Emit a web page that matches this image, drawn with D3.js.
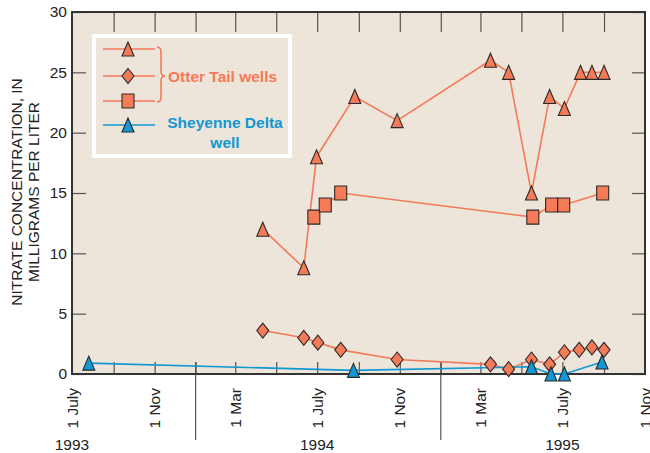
<!DOCTYPE html>
<html>

<head>
    <title>Nitrate concentration</title>
    <script src="https://d3js.org/d3.v7.min.js"></script>
    <style>
        body { margin: 0; background: #fff; }
        text { font-family: "Liberation Sans", Arial, sans-serif; fill: #222; }
        .axis path { display: none; }
        .axis line { stroke: #555; stroke-width: 1.2px; }
    </style>
</head>

<body>
    <div id="chart"></div>
    <script>
        // Otter Tail well 1 (triangles)
        const triDates = ["1994-04-11", "1994-06-11", "1994-06-30", "1994-08-26", "1994-10-28", "1995-03-16", "1995-04-12", "1995-05-16", "1995-06-12", "1995-07-04", "1995-07-28", "1995-08-14", "1995-09-01"];
        const triValues = [12, 8.8, 18, 23, 21, 26, 25, 15, 23, 22, 25, 25, 25];
        // Otter Tail well 2 (diamonds)
        const diaDates = ["1994-04-11", "1994-06-11", "1994-07-02", "1994-08-05", "1994-10-28", "1995-03-16", "1995-04-12", "1995-05-16", "1995-06-12", "1995-07-04", "1995-07-26", "1995-08-14", "1995-09-01"];
        const diaValues = [3.6, 3.0, 2.6, 2.0, 1.2, 0.8, 0.4, 1.2, 0.8, 1.8, 2.0, 2.2, 2.0];
        // Otter Tail well 3 (squares)
        const sqDates = ["1994-06-26", "1994-07-13", "1994-08-05", "1995-05-18", "1995-06-15", "1995-07-03", "1995-08-30"];
        const sqValues = [13, 14, 15, 13, 14, 14, 15];
        // Sheyenne Delta well
        const shDates = ["1993-07-26", "1994-08-24", "1995-05-16", "1995-06-14", "1995-07-04", "1995-08-29"];
        const shValues = [0.9, 0.3, 0.6, 0, 0, 1.0];

        const yTicks = [0, 5, 10, 15, 20, 25, 30];
        const xLabelDates = ["1993-07-01", "1993-11-01", "1994-03-01", "1994-07-01", "1994-11-01", "1995-03-01", "1995-07-01", "1995-11-01"];
        const xLabels = ["1 July", "1 Nov", "1 Mar", "1 July", "1 Nov", "1 Mar", "1 July", "1 Nov"];
        const yearDates = ["1993-07-01", "1994-07-01", "1995-07-01"];
        const yearLabels = ["1993", "1994", "1995"];
        const yearBreaks = ["1994-01-01", "1995-01-01"];

        const orange = "#f47a58";
        const orangeLine = "#f4795a";
        const blue = "#1197d3";
        const beige = "#ede5d9";

        const parse = d3.utcParse("%Y-%m-%d");
        const zip = (ds, vs) => ds.map((d, i) => ({ date: parse(d), value: vs[i] }));
        const tri = zip(triDates, triValues);
        const dia = zip(diaDates, diaValues);
        const sq = zip(sqDates, sqValues);
        const sh = zip(shDates, shValues);

        const width = 650, height = 453;
        const mLeft = 72, mRight = 645, mTop = 12, mBottom = 374;

        const svg = d3.select("#chart")
            .append("svg")
            .attr("width", width)
            .attr("height", height);

        const x = d3.scaleUtc()
            .domain([parse("1993-07-01"), parse("1995-11-01")])
            .range([mLeft, mRight]);
        const y = d3.scaleLinear().domain([0, 30]).range([mBottom, mTop]);

        // plot background
        svg.append("rect")
            .attr("x", mLeft).attr("y", mTop)
            .attr("width", mRight - mLeft).attr("height", mBottom - mTop)
            .attr("fill", beige);

        const monthTicks = d3.utcMonth.every(2).range(parse("1993-09-01"), parse("1995-10-01"));

        // inward ticks
        svg.append("g").attr("class", "axis")
            .attr("transform", `translate(0,${mBottom})`)
            .call(d3.axisBottom(x).tickValues(monthTicks).tickSizeInner(-12).tickSizeOuter(0).tickFormat(""));
        svg.append("g").attr("class", "axis")
            .attr("transform", `translate(0,${mTop})`)
            .call(d3.axisTop(x).tickValues(monthTicks).tickSizeInner(-20).tickSizeOuter(0).tickFormat(""));
        svg.append("g").attr("class", "axis")
            .attr("transform", `translate(${mLeft},0)`)
            .call(d3.axisLeft(y).tickValues(yTicks).tickSizeInner(-14).tickSizeOuter(0).tickPadding(5))
            .selectAll("text")
            .style("font-size", "15.5px")
            .attr("fill", "#222");
        svg.append("g").attr("class", "axis")
            .attr("transform", `translate(${mRight},0)`)
            .call(d3.axisRight(y).tickValues(yTicks).tickSizeInner(-13).tickSizeOuter(0).tickFormat(""));

        // year separators
        svg.selectAll(".yearbreak")
            .data(yearBreaks)
            .join("line")
            .attr("x1", d => x(parse(d))).attr("x2", d => x(parse(d)))
            .attr("y1", mBottom - 12).attr("y2", 440)
            .attr("stroke", "#555").attr("stroke-width", 1.2);

        // frame
        svg.append("rect")
            .attr("x", mLeft).attr("y", mTop)
            .attr("width", mRight - mLeft).attr("height", mBottom - mTop)
            .attr("fill", "none")
            .attr("stroke", "#333")
            .attr("stroke-width", 2);

        // x labels (rotated); the last one runs off the right edge as in the original
        svg.selectAll(".xlab")
            .data(xLabelDates)
            .join("text")
            .attr("transform", d => `translate(${x(parse(d))},388) rotate(-90)`)
            .attr("text-anchor", "end")
            .attr("dy", "0.36em")
            .style("font-size", "15.5px")
            .text((d, i) => xLabels[i]);

        svg.selectAll(".yearlab")
            .data(yearDates)
            .join("text")
            .attr("x", d => x(parse(d)))
            .attr("y", 450)
            .attr("text-anchor", "middle")
            .style("font-size", "15.5px")
            .text((d, i) => yearLabels[i]);

        // y title
        const yt = svg.append("text")
            .attr("transform", "translate(0,192) rotate(-90)")
            .attr("text-anchor", "middle")
            .style("font-size", "15.5px");
        yt.append("tspan").attr("x", 0).attr("y", 22).text("NITRATE CONCENTRATION, IN");
        yt.append("tspan").attr("x", 0).attr("y", 39).text("MILLIGRAMS PER LITER");

        // markers
        const triPath = "M0,-7L6,7L-6,7Z";
        const diaPath = "M0,-7.5L6,0L0,7.5L-6,0Z";
        const sqPath = "M-6,-7H6V7H-6Z";

        const line = d3.line().x(d => x(d.date)).y(d => y(d.value));

        [[tri, orangeLine], [dia, orangeLine], [sq, orangeLine], [sh, blue]].forEach(([data, c]) => {
            svg.append("path")
                .datum(data)
                .attr("d", line)
                .attr("fill", "none")
                .attr("stroke", c)
                .attr("stroke-width", 1.6);
        });

        function marks(data, shape, fill) {
            svg.append("g")
                .selectAll("path")
                .data(data)
                .join("path")
                .attr("transform", d => `translate(${x(d.date)},${y(d.value)})`)
                .attr("d", shape)
                .attr("fill", fill)
                .attr("stroke", "#2a2a2a")
                .attr("stroke-width", 1.1);
        }
        marks(dia, diaPath, orange);
        marks(sq, sqPath, orange);
        marks(tri, triPath, orange);
        marks(sh, triPath, blue);

        // legend
        const lg = svg.append("g");
        lg.append("rect")
            .attr("x", 94).attr("y", 36)
            .attr("width", 196).attr("height", 120)
            .attr("fill", beige)
            .attr("stroke", "#fff")
            .attr("stroke-width", 4);
        const legendRows = [[49, triPath, orange, orangeLine], [76, diaPath, orange, orangeLine], [101, sqPath, orange, orangeLine], [125, triPath, blue, blue]];
        legendRows.forEach(([ly, shape, fill, c]) => {
            lg.append("line")
                .attr("x1", 103).attr("x2", 155)
                .attr("y1", ly).attr("y2", ly)
                .attr("stroke", c).attr("stroke-width", 1.6);
            lg.append("path")
                .attr("transform", `translate(128,${ly})`)
                .attr("d", shape)
                .attr("fill", fill)
                .attr("stroke", "#2a2a2a")
                .attr("stroke-width", 1.1);
        });
        lg.append("path")
            .attr("d", "M157,47Q161,47 161,52L161,71Q161,76 165,76Q161,76 161,81L161,97Q161,102 157,102")
            .attr("fill", "none")
            .attr("stroke", orangeLine)
            .attr("stroke-width", 1.6);
        lg.append("text")
            .attr("x", 168).attr("y", 82)
            .style("font-size", "15.5px").style("font-weight", "bold")
            .style("fill", orange)
            .text("Otter Tail wells");
        const sht = lg.append("text")
            .attr("text-anchor", "middle")
            .style("font-size", "15.5px").style("font-weight", "bold")
            .style("fill", blue);
        sht.append("tspan").attr("x", 225).attr("y", 128).text("Sheyenne Delta");
        sht.append("tspan").attr("x", 225).attr("y", 148).text("well");
    </script>

</body>

</html>
